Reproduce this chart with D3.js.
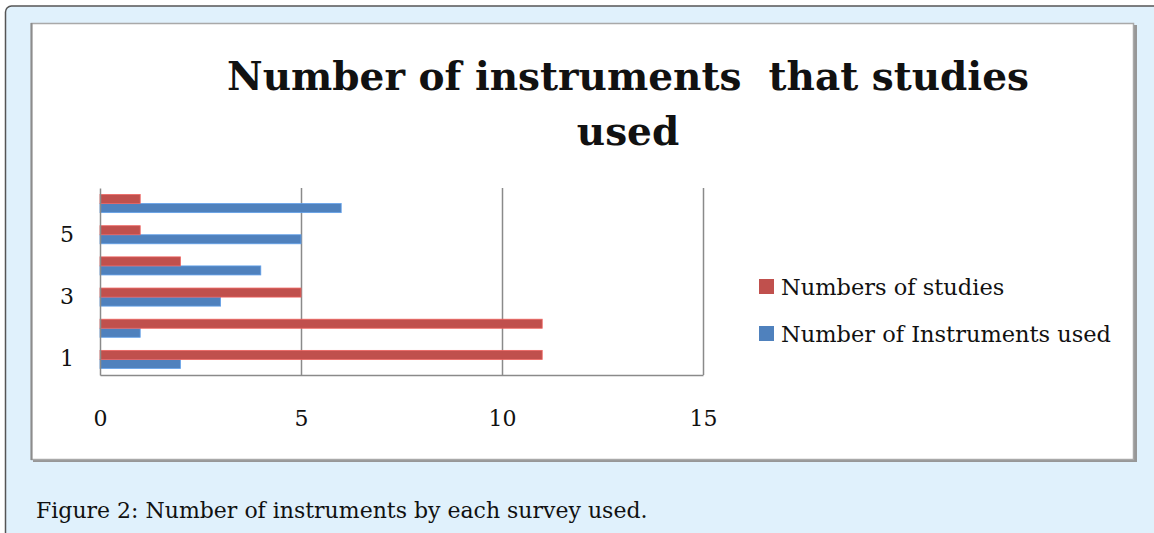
<!doctype html>
<html>
<head>
<meta charset="utf-8">
<title>Number of instruments that studies used</title>
<script src="https://cdnjs.cloudflare.com/ajax/libs/d3/7.8.5/d3.min.js"></script>
<style>
  body { margin: 0; background: #fff; }
  text { font-family: "DejaVu Serif", "Liberation Serif", serif; fill: #111; }
</style>
</head>
<body>
<div id="chartContainer"></div>

<script type="text/javascript">

// values
var categories = ["1", "2", "3", "4", "5", "6"];
var instrumentsUsed = [2, 1, 3, 4, 5, 6];
var numbersOfStudies = [11, 11, 5, 2, 1, 1];
var seriesNames = ["Number of Instruments used", "Numbers of studies"];
var seriesColors = ["#4f81bd", "#c0504d"];
var xTicks = [0, 5, 10, 15];
var yTickLabels = ["1", "3", "5"];
var titleLines = ["Number of instruments\u00a0 that studies", "used"];
var caption = "Figure 2: Number of instruments by each survey used.";

function draw()
{
	var width = 1154, height = 533;
	var plot = {left: 100, right: 703, top: 188, bottom: 375};

	var svg = d3.select("#chartContainer")
				.append("svg")
				.attr("width", width)
				.attr("height", height);

	// light blue figure panel
	svg.append("rect")
		.attr("x", 5.5)
		.attr("y", 6)
		.attr("width", width + 20)
		.attr("height", height + 20)
		.attr("rx", 6)
		.attr("fill", "#e0f1fc")
		.attr("stroke", "#555")
		.attr("stroke-width", 1.5);

	// white chart area with a grey shadow on right and bottom
	svg.append("rect")
		.attr("x", 33)
		.attr("y", 25)
		.attr("width", 1104)
		.attr("height", 437)
		.attr("fill", "#979797");
	svg.append("rect")
		.attr("x", 31.5)
		.attr("y", 23.5)
		.attr("width", 1102)
		.attr("height", 436)
		.attr("fill", "#fff")
		.attr("stroke", "#a9a9a9")
		.attr("stroke-width", 1.5);
	svg.append("line")
		.attr("x1", 31.5).attr("x2", 31.5)
		.attr("y1", 23).attr("y2", 460)
		.attr("stroke", "#8c8c8c")
		.attr("stroke-width", 2);

	// title
	svg.append("text")
		.attr("x", 628)
		.attr("text-anchor", "middle")
		.style("font-size", "39px")
		.style("font-weight", "bold")
		.selectAll("tspan")
		.data(titleLines)
		.enter().append("tspan")
			.attr("x", 628)
			.attr("y", function (d, i) { return 90 + i * 55; })
			.text(function (d) { return d; });

	var x = d3.scaleLinear()
			.domain([0, 15])
			.range([plot.left, plot.right]);

	var y = d3.scaleBand()
			.domain(categories)
			.range([plot.bottom, plot.top])
			.paddingInner(0.42)
			.paddingOuter(0.21);

	var ySub = d3.scaleBand()
			.domain(seriesNames)
			.range([y.bandwidth(), 0]);

	// vertical gridlines
	var grid = svg.append("g")
				.attr("transform", "translate(0," + plot.bottom + ")")
				.call(d3.axisBottom(x)
						.tickValues(xTicks.slice(1))
						.tickSize(-(plot.bottom - plot.top))
						.tickFormat(""));
	grid.select(".domain").remove();
	grid.selectAll("line")
		.attr("stroke", "#8a8a8a")
		.attr("stroke-width", 1.5);

	// bars
	var rows = categories.map(function (c, i) {
		return {cat: c, values: [instrumentsUsed[i], numbersOfStudies[i]]};
	});

	var groups = svg.selectAll("g.cat")
				.data(rows)
				.enter().append("g")
				.attr("class", "cat")
				.attr("transform", function (d) { return "translate(0," + y(d.cat) + ")"; });

	groups.selectAll("rect")
		.data(function (d) {
			return d.values.map(function (v, k) { return {name: seriesNames[k], value: v, k: k}; });
		})
		.enter().append("rect")
			.attr("x", x(0))
			.attr("y", function (d) { return ySub(d.name); })
			.attr("width", function (d) { return x(d.value) - x(0); })
			.attr("height", ySub.bandwidth())
			.attr("fill", function (d) { return seriesColors[d.k]; })
			.attr("stroke", function (d) { return d3.color(seriesColors[d.k]).brighter(0.6); })
			.attr("stroke-width", 0.8);

	// axes
	var xAxis = svg.append("g")
				.attr("transform", "translate(0," + plot.bottom + ")")
				.call(d3.axisBottom(x)
						.tickValues(xTicks)
						.tickSize(0)
						.tickPadding(35));
	xAxis.selectAll("text").style("font-size", "22px").attr("font-family", null);

	var yAxis = svg.append("g")
				.attr("transform", "translate(" + plot.left + ",0)")
				.call(d3.axisLeft(y)
						.tickValues(yTickLabels)
						.tickSize(0)
						.tickPadding(26));
	yAxis.selectAll("text").style("font-size", "22px").attr("font-family", null);

	[xAxis, yAxis].forEach(function (a) {
		a.select(".domain")
			.attr("stroke", "#8a8a8a")
			.attr("stroke-width", 1.5);
	});

	// legend, studies first as in the original
	var legend = svg.selectAll("g.legend")
				.data([1, 0])
				.enter().append("g")
				.attr("class", "legend")
				.attr("transform", function (d, i) { return "translate(759," + (279 + i * 47) + ")"; });
	legend.append("rect")
		.attr("width", 15)
		.attr("height", 15)
		.attr("fill", function (d) { return seriesColors[d]; });
	legend.append("text")
		.attr("x", 22)
		.attr("y", 16)
		.style("font-size", "22.5px")
		.text(function (d) { return seriesNames[d]; });

	// caption under the chart
	svg.append("text")
		.attr("x", 36)
		.attr("y", 518)
		.style("font-size", "22px")
		.text(caption);
}

draw();
</script>
</body>
</html>
